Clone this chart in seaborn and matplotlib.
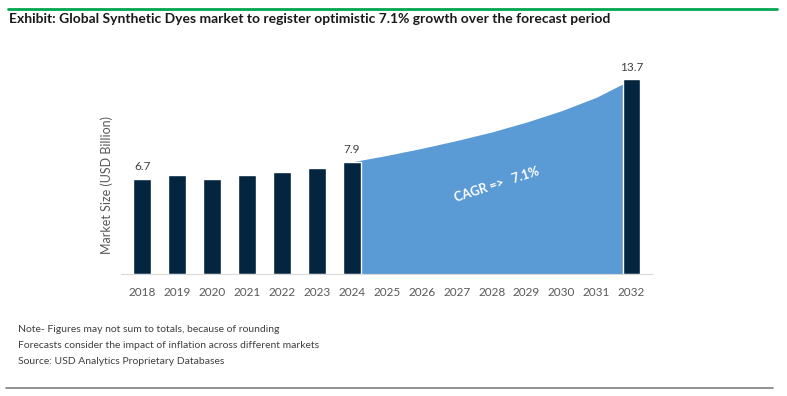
import numpy as np
import pandas as pd
import matplotlib.pyplot as plt
import seaborn as sns

years = [str(y) for y in range(2018, 2033)]
bar_values = [6.7, 7.0, 6.7, 7.0, 7.2, 7.5, 7.9,
              np.nan, np.nan, np.nan, np.nan, np.nan, np.nan, np.nan, 13.7]
forecast_years = [str(y) for y in range(2024, 2033)]
forecast_values = [7.9, 8.35, 8.85, 9.4, 10.0, 10.7, 11.5, 12.45, 13.7]
labelled = {"2018": "6.7", "2024": "7.9", "2032": "13.7"}

notes = ["Note- Figures may not sum to totals, because of rounding",
         "Forecasts consider the impact of inflation across different markets",
         "Source: USD Analytics Proprietary Databases"]

sns.set_style("white")
plt.rcParams['font.family'] = ['Lato', 'DejaVu Sans']

df = pd.DataFrame({"year": years, "value": bar_values})

fig = plt.figure(figsize=(7.87, 3.96), dpi=100)
ax = fig.add_axes([0.154, 0.308, 0.675, 0.538])

# forecast area behind the bars
fx = [years.index(y) for y in forecast_years]
ax.fill_between(fx, 0, forecast_values, color='#5b9bd5', lw=0, zorder=1)

sns.barplot(data=df, x="year", y="value", order=years, color='#03253f',
            width=0.5, saturation=1, ax=ax, zorder=2)

for yr, txt in labelled.items():
    i = years.index(yr)
    ax.text(i, bar_values[i] + 0.45, txt, ha='center', va='bottom',
            fontsize=8.5, color='#404040')

ax.text(10.15, 6.3, "CAGR =>   7.1%", rotation=18, ha='center', va='center',
        color='white', fontsize=9, fontweight='bold')

ax.set_xlim(-0.6, 14.6)
ax.set_ylim(0, 15)
ax.set_xlabel("")
ax.set_ylabel("Market Size (USD Billion)", fontsize=9, color='#595959')
ax.yaxis.set_label_coords(-0.016, 0.42)
ax.set_yticks([])
ax.tick_params(axis='x', length=0, labelsize=8.5, labelcolor='#595959', pad=9)
for s in ['top', 'right', 'left']:
    ax.spines[s].set_visible(False)
ax.spines['bottom'].set_color('#d9d9d9')

fig.text(0.011, 0.952, "Exhibit: Global Synthetic Dyes market to register optimistic 7.1% growth over the forecast period",
         fontsize=10, fontweight='bold', color='#1a1a1a', va='center')
fig.add_artist(plt.Line2D([0.010, 0.987], [0.977, 0.977], color='#00a650', lw=2))
fig.add_artist(plt.Line2D([0.008, 0.982], [0.020, 0.020], color='#808080', lw=1.2))

for k, line in enumerate(notes):
    fig.text(0.023, 0.167 - k * 0.04, line, fontsize=7.5, color='#404040', va='center')

fig.savefig("out.png", dpi=100)
